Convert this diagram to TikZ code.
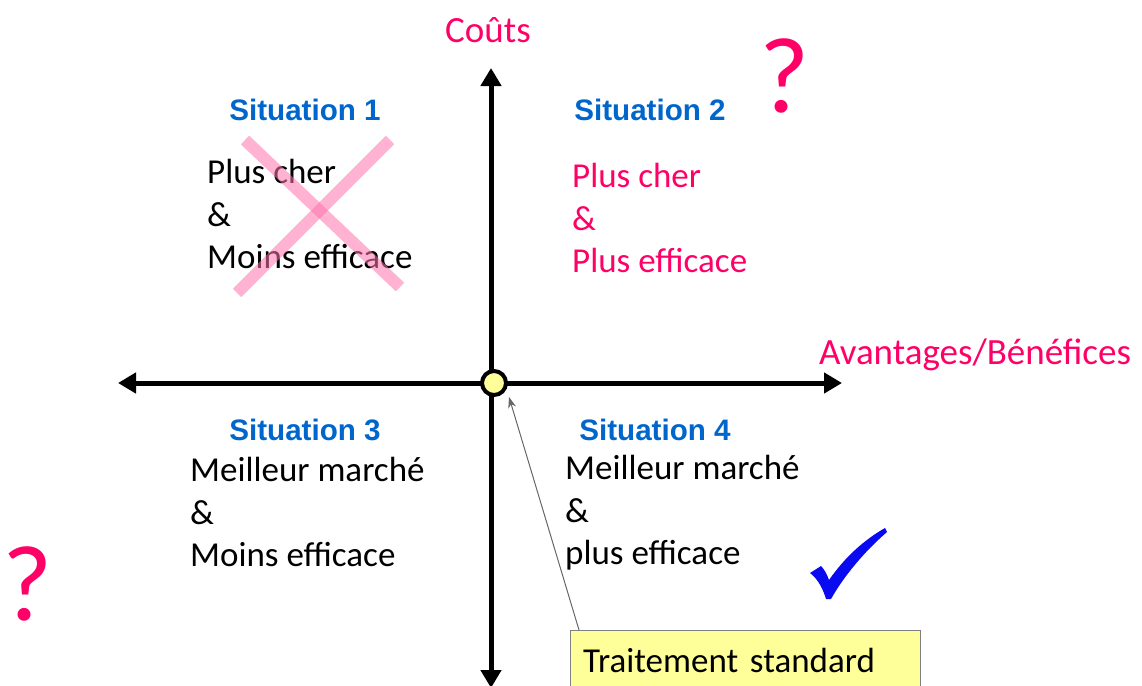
\documentclass[tikz,border=0pt]{standalone}
\usepackage{fontspec}
\setmainfont{Carlito}
\newfontfamily\arialfont{Liberation Sans}
\usetikzlibrary{arrows.meta}
\definecolor{rose}{RGB}{255,0,102}
\definecolor{bleusit}{RGB}{0,102,204}
\definecolor{jaune}{RGB}{255,255,153}
\definecolor{bleucoche}{RGB}{10,10,240}
\tikzset{
	axe/.style={line width=5pt,{Triangle[length=18pt,width=20pt]}-{Triangle[length=18pt,width=20pt]}},
	titre/.style={font=\arialfont\bfseries\fontsize{29.6}{34}\selectfont,text=bleusit,inner sep=0pt},
	corps/.style={font=\fontsize{35}{42.5}\selectfont,align=left,anchor=west,inner sep=0pt},
	legende/.style={font=\fontsize{37}{42}\selectfont,text=rose,inner sep=0pt},
	question/.style={font=\fontsize{108}{112}\selectfont,text=rose,inner sep=0pt,anchor=base},
	croix/.style={line width=12pt,draw=rose!55,opacity=0.55},
	encadre/.style={draw=gray,fill=jaune,anchor=north west,minimum width=350pt,inner xsep=13pt,inner ysep=18pt,font=\fontsize{35}{42}\selectfont,align=left,text width=324pt},
	fleche/.style={draw=gray!80!black,line width=1pt,-{Stealth[length=11pt,width=8pt]}}
}

\begin{document}
\begin{tikzpicture}[x=1pt,y=-1pt]
	\useasboundingbox (0,0) rectangle (1142,685);

	\coordinate (haut) at (491,68);
	\coordinate (bas) at (491,688);
	\coordinate (gauche) at (118,383);
	\coordinate (droite) at (842,383);
	\draw[axe] (gauche) -- (droite);
	\draw[axe] (bas) -- (haut);
	\node[circle,draw,line width=4pt,fill=jaune,minimum size=24pt,inner sep=0pt] (origine) at (494,383) {};

	\node[legende] (couts) at (488,30) {Coûts};
	\node[legende] (avantages) at (975,355) {Avantages/Bénéfices};

	\node[titre] (sit1) at (305,110) {Situation 1};
	\node[titre] (sit2) at (650,110) {Situation 2};
	\node[titre] (sit3) at (305,430) {Situation 3};
	\node[titre] (sit4) at (655,430) {Situation 4};

	\node[corps] (q1) at (207,214) {Plus cher\\\&\\Moins efficace};
	\node[corps,text=rose] (q2) at (572,218) {Plus cher\\\&\\Plus efficace};
	\node[corps] (q3) at (190,512) {Meilleur marché\\\&\\Moins efficace};
	\node[corps] (q4) at (565,513) {Meilleur marché\\\&\\plus efficace};

	% situation 1 barree
	\draw[croix] (245,140) -- (400,287);
	\draw[croix] (390,140) -- (237,293);

	\node[question] (doute2) at (785,112) {?};
	\node[question] (doute3) at (28,620) {?};

	% coche de la situation 4
	\fill[bleucoche] (810,573) -- (821,566) .. controls (824,569) and (827,574) .. (829,580)
		.. controls (845,557) and (864,540) .. (885,528) -- (887,532)
		.. controls (864,552) and (844,576) .. (831,599) -- (826,599)
		.. controls (823,589) and (818,579) .. (810,573) -- cycle;

	\node[encadre] (std) at (570,630) {Traitement standard};
	\coordinate (pointe) at (509,397);
	\draw[fleche] ([xshift=9pt]std.north west) -- (pointe);
\end{tikzpicture}
\end{document}
